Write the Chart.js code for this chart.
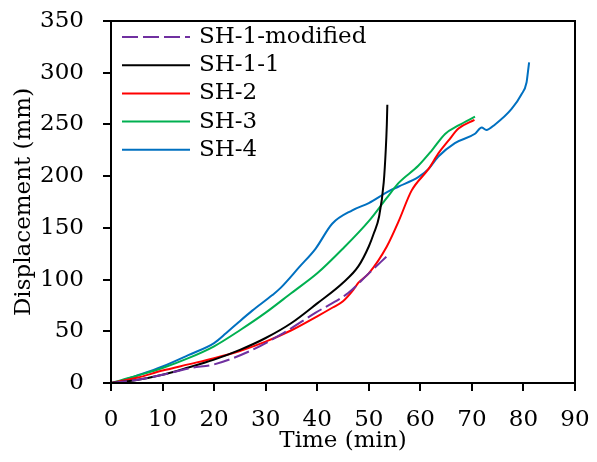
<!DOCTYPE html>
<html>
<head>
<meta charset="utf-8">
<script src="https://cdn.jsdelivr.net/npm/chart.js@4.4.1/dist/chart.umd.min.js"></script>
<style>
body{margin:0;background:#fff;}
#wrap{width:597px;height:462px;}
</style>
</head>
<body>
<div id="wrap"><canvas id="dispChart" width="597" height="462"></canvas></div>
<script>
// series names and colours
const names=["SH-1-modified","SH-1-1","SH-2","SH-3","SH-4"];
const colors=["#7030A0","#000000","#FF0000","#00B050","#0070C0"];

// time (min) and displacement (mm) for each test
const sh1modTime=[0,5,10,15.5,20,26.8,33,39.7,46,50,53.6];
const sh1modDisp=[0,3,8,14.5,18,30.6,47,68,87,106,123];

const sh11Time=[0,5,10,15,20,25,30,35,40,45,48,50,51,52,52.9,53.3,53.5,53.6];
const sh11Disp=[0,3,8,15,22.6,32,43.5,58,77,97,113,132,145,161,194,226,250,269];

const sh2Time=[0,5,10,15,20,25,30,35,40,43,45,47,48,50,53.5,55.8,58.3,61.6,63.5,65.4,67.4,70.5];
const sh2Disp=[0,5,12,18,24,31,40,51,64.5,73,79,90,97,106,132,156.5,186,207,222,234,246,254.5];

const sh3Time=[0,5,10,15,20,25,30,35,40,44.8,50,53.5,55.8,59.6,62.2,64.8,67.4,70.6];
const sh3Disp=[0,7,14.5,24,35.5,51,68,87,106,129,156.5,179,193.5,210,224.7,240.8,249,257.5];

const sh4Time=[0.8,5,10,15,20,22.3,24.8,27.4,31.3,32.9,36.5,39.7,42.9,46.8,50,53.9,55.8,59.6,61.6,63.5,66.7,70.6,71.9,72.8,74.5,77.7,79.6,80.6,80.9,81.1];
const sh4Disp=[0,7,16,27,38.6,48,59,70,85,92,112,130,154,167,174,185.5,190,199,207,219,232,241,247,244.6,250,265,279,290.5,302,310];

const times=[sh1modTime,sh11Time,sh2Time,sh3Time,sh4Time];
const disps=[sh1modDisp,sh11Disp,sh2Disp,sh3Disp,sh4Disp];

const xTicks=[0,10,20,30,40,50,60,70,80,90];
const yTicks=[0,50,100,150,200,250,300,350];

const FONT="'DejaVu Serif', serif";
const FSIZE=23;

let datasets=names.map((n,i)=>({
    label:n,
    data:times[i].map((t,j)=>({x:t,y:disps[i][j]})),
    borderColor:colors[i],
    borderWidth:2,
    borderDash:i===0?[16,5]:[],
    pointRadius:0,
    showLine:true,
    fill:false,
    cubicInterpolationMode:"monotone"
}));

// box around plot + legend inside the plot
const framePlugin={
    id:"frame",
    afterDatasetsDraw(chart){
        const {ctx,chartArea:a}=chart;
        ctx.save();
        ctx.strokeStyle="#000";
        ctx.lineWidth=2;
        ctx.strokeRect(a.left,a.top,a.right-a.left,a.bottom-a.top);

        ctx.font=FSIZE+"px "+FONT;
        ctx.textBaseline="middle";
        ctx.fillStyle="#000";
        chart.data.datasets.forEach((ds,i)=>{
            let y=a.top+16+i*28.2;
            ctx.beginPath();
            ctx.strokeStyle=ds.borderColor;
            ctx.lineWidth=2;
            ctx.setLineDash(ds.borderDash);
            ctx.moveTo(a.left+11,y);
            ctx.lineTo(a.left+79,y);
            ctx.stroke();
            ctx.setLineDash([]);
            ctx.fillText(ds.label,a.left+88,y);
        });
        ctx.restore();
    }
};

new Chart(document.getElementById("dispChart"),{
    type:"scatter",
    data:{datasets:datasets},
    options:{
        responsive:false,
        animation:false,
        layout:{padding:{top:21,right:22,left:0,bottom:0}},
        plugins:{legend:{display:false},tooltip:{enabled:false}},
        scales:{
            x:{
                type:"linear",min:0,max:90,
                afterFit(s){s.height=79;s.paddingLeft=0;s.paddingRight=0;},
                afterBuildTicks(s){s.ticks=xTicks.map(v=>({value:v}));},
                grid:{drawOnChartArea:false,drawTicks:true,tickLength:8,color:"#000",lineWidth:2},
                border:{display:true,color:"#000",width:2},
                ticks:{color:"#000",font:{family:FONT,size:FSIZE},padding:15,maxRotation:0},
                title:{display:true,text:"Time (min)",color:"#000",font:{family:FONT,size:FSIZE},padding:{top:0,bottom:7}}
            },
            y:{
                type:"linear",min:0,max:350,
                afterFit(s){s.width=111;s.paddingTop=0;s.paddingBottom=0;},
                afterBuildTicks(s){s.ticks=yTicks.map(v=>({value:v}));},
                grid:{drawOnChartArea:false,drawTicks:true,tickLength:8,color:"#000",lineWidth:2},
                border:{display:true,color:"#000",width:2},
                ticks:{color:"#000",font:{family:FONT,size:FSIZE},padding:19},
                title:{display:true,text:"Displacement (mm)",color:"#000",font:{family:FONT,size:FSIZE},padding:{top:10,bottom:0}}
            }
        }
    },
    plugins:[framePlugin]
});
</script>
</body>
</html>
